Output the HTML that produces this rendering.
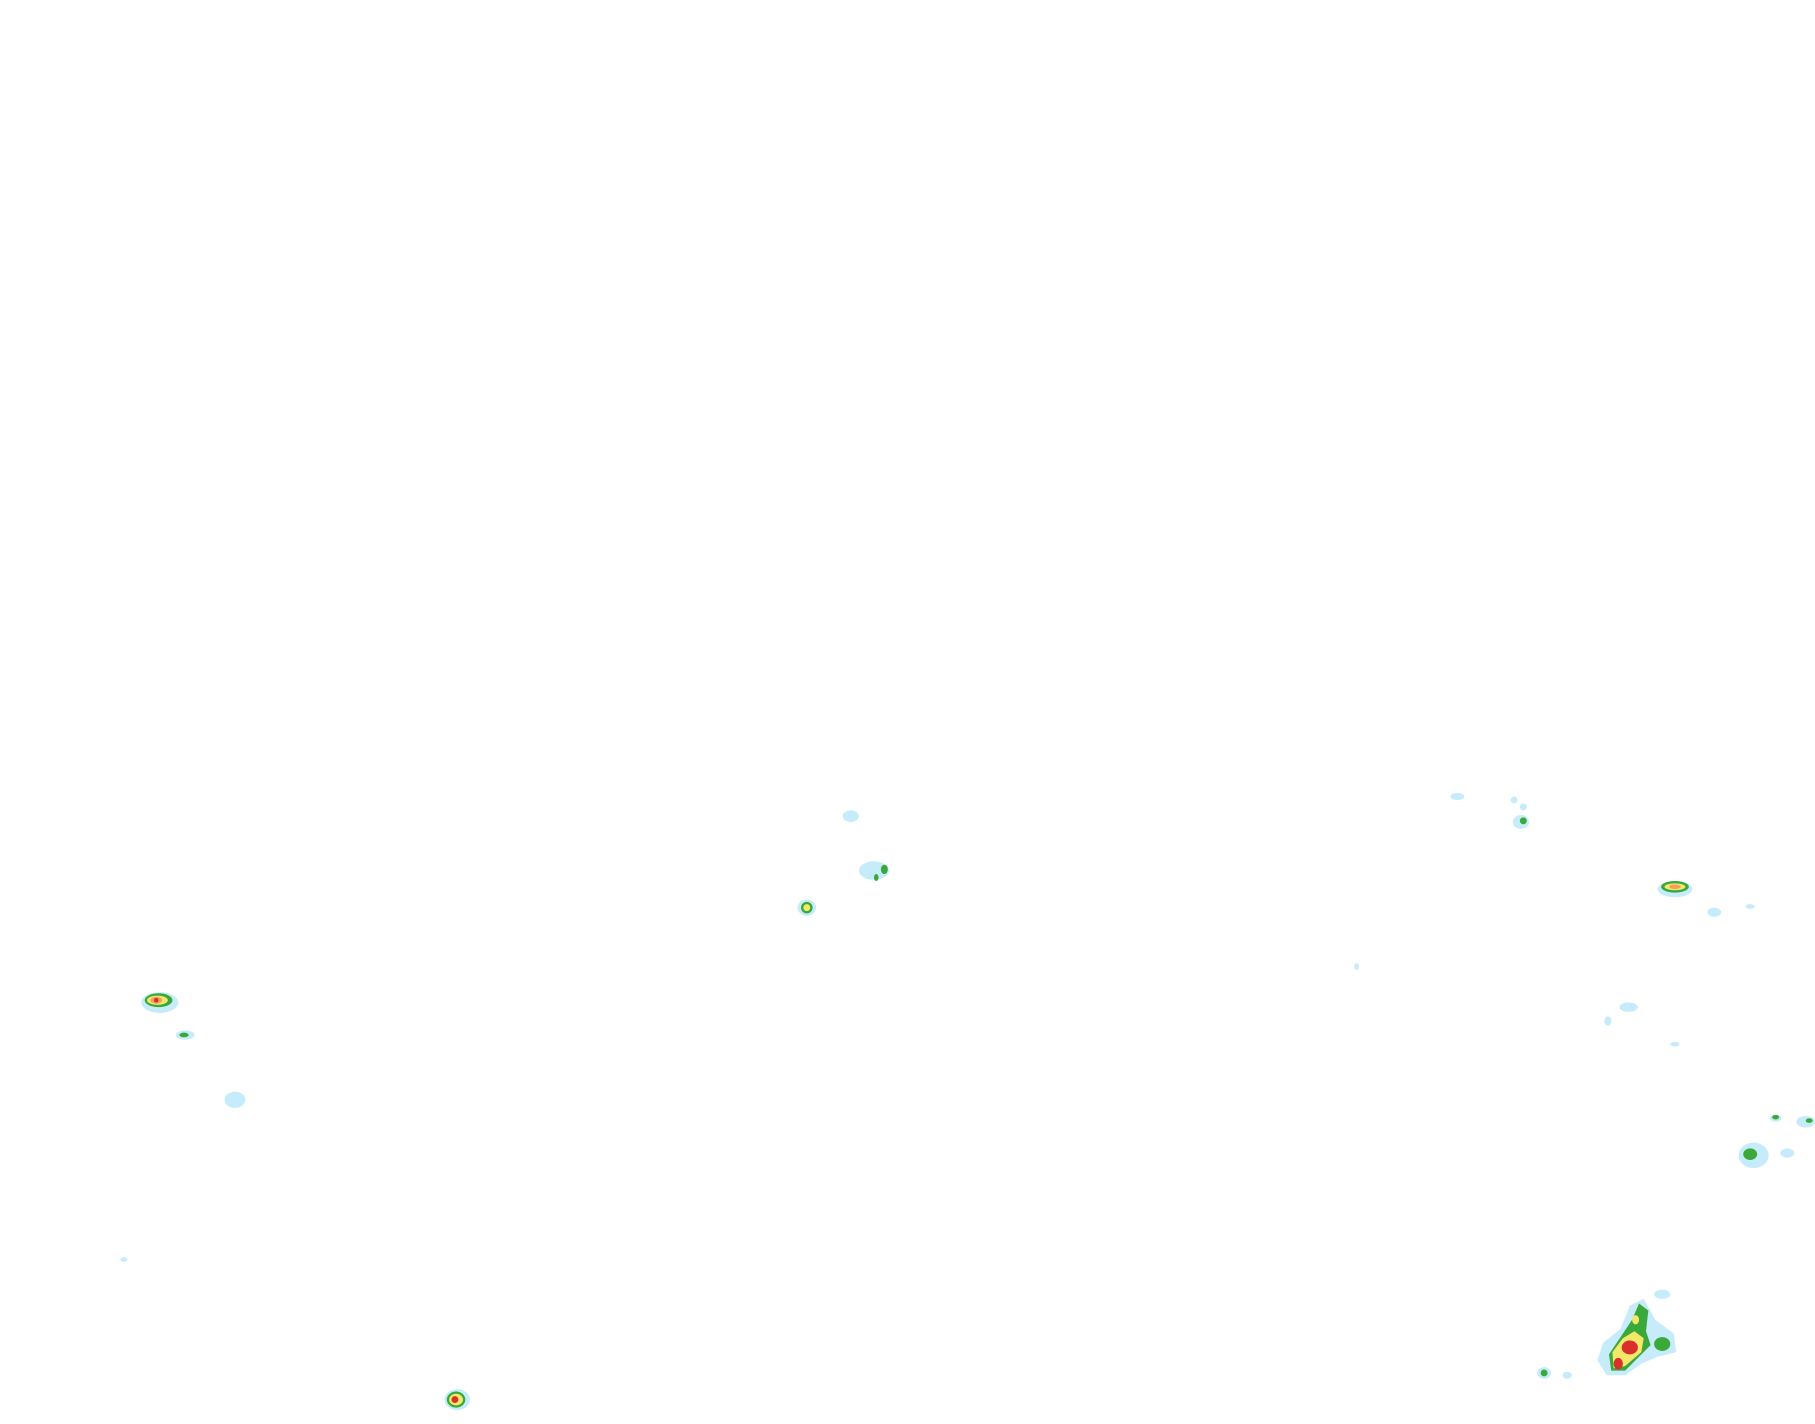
<!DOCTYPE html>
<html><head><meta charset="utf-8"><style>html,body{margin:0;padding:0;background:#fff;width:1815px;height:1424px;overflow:hidden}</style></head>
<body>
<svg width="1815" height="1424" viewBox="0 0 1568 1230" xmlns="http://www.w3.org/2000/svg">
<g fill="#c6ebfb">
<ellipse cx="735" cy="705" rx="7" ry="5"/>
<ellipse cx="755" cy="752" rx="13" ry="8"/>
<ellipse cx="697" cy="784" rx="8" ry="7"/>
<ellipse cx="1259" cy="688" rx="6" ry="3"/>
<ellipse cx="1308" cy="691" rx="3" ry="3"/>
<ellipse cx="1316" cy="697" rx="3" ry="3"/>
<ellipse cx="1314" cy="710" rx="7" ry="6"/>
<ellipse cx="1447" cy="768" rx="15" ry="7"/>
<ellipse cx="1481" cy="788" rx="6" ry="4"/>
<ellipse cx="1512" cy="783" rx="4" ry="2"/>
<ellipse cx="1172" cy="835" rx="2" ry="3"/>
<ellipse cx="1407" cy="870" rx="8" ry="4"/>
<ellipse cx="1389" cy="882" rx="3" ry="4"/>
<ellipse cx="1447" cy="902" rx="4" ry="2"/>
<ellipse cx="1534" cy="966" rx="5" ry="3"/>
<ellipse cx="1560" cy="969" rx="8" ry="5"/>
<ellipse cx="1515" cy="998" rx="13" ry="11"/>
<ellipse cx="1544" cy="996" rx="6" ry="4"/>
<ellipse cx="138" cy="866" rx="16" ry="9"/>
<ellipse cx="160" cy="894" rx="8" ry="4"/>
<ellipse cx="203" cy="950" rx="9" ry="7"/>
<ellipse cx="107" cy="1088" rx="3" ry="2"/>
<ellipse cx="395" cy="1209" rx="11" ry="9"/>
<ellipse cx="1436" cy="1118" rx="7" ry="4"/>
<path d="M1385 1160 L1400 1148 L1408 1128 L1420 1122 L1430 1140 L1446 1152 L1448 1168 L1432 1172 L1418 1178 L1404 1188 L1388 1188 L1380 1175 Z"/>
<ellipse cx="1334" cy="1186" rx="6" ry="5"/>
<ellipse cx="1354" cy="1188" rx="4" ry="3"/>
</g>
<g fill="#3aa93a">
<ellipse cx="764" cy="751" rx="3" ry="4"/>
<ellipse cx="757" cy="758" rx="2" ry="3"/>
<ellipse cx="697" cy="784" rx="5" ry="5"/>
<ellipse cx="1316" cy="709" rx="3" ry="3"/>
<ellipse cx="1447" cy="766" rx="12" ry="5"/>
<ellipse cx="137" cy="864" rx="12" ry="6"/>
<ellipse cx="159" cy="894" rx="4" ry="2"/>
<ellipse cx="1512" cy="997" rx="6" ry="5"/>
<ellipse cx="1534" cy="965" rx="3" ry="2"/>
<ellipse cx="1563" cy="968" rx="3" ry="2"/>
<ellipse cx="394" cy="1209" rx="8" ry="7"/>
<path d="M1390 1170 L1400 1155 L1410 1140 L1416 1126 L1424 1132 L1422 1150 L1426 1162 L1418 1170 L1404 1184 L1392 1184 Z"/>
<ellipse cx="1436" cy="1161" rx="7" ry="6"/>
<ellipse cx="1334" cy="1186" rx="3" ry="3"/>
</g>
<g fill="#f3e86a">
<ellipse cx="697" cy="784" rx="3" ry="3"/>
<ellipse cx="1447" cy="766" rx="9" ry="3"/>
<ellipse cx="136" cy="864" rx="9" ry="4"/>
<ellipse cx="394" cy="1209" rx="6" ry="5"/>
<path d="M1393 1168 L1402 1156 L1412 1150 L1420 1156 L1418 1168 L1404 1180 L1394 1182 Z"/>
<ellipse cx="1413" cy="1140" rx="3" ry="4"/>
</g>
<g fill="#f0a060">
<ellipse cx="1447" cy="766" rx="5" ry="2"/>
<ellipse cx="135" cy="864" rx="5" ry="3"/>
</g>
<g fill="#d8302a">
<ellipse cx="135" cy="864" rx="2" ry="2"/>
<ellipse cx="393" cy="1209" rx="3" ry="3"/>
<ellipse cx="1408" cy="1164" rx="7" ry="6"/>
<ellipse cx="1398" cy="1178" rx="4" ry="5"/>
</g>
</svg>
</body></html>
